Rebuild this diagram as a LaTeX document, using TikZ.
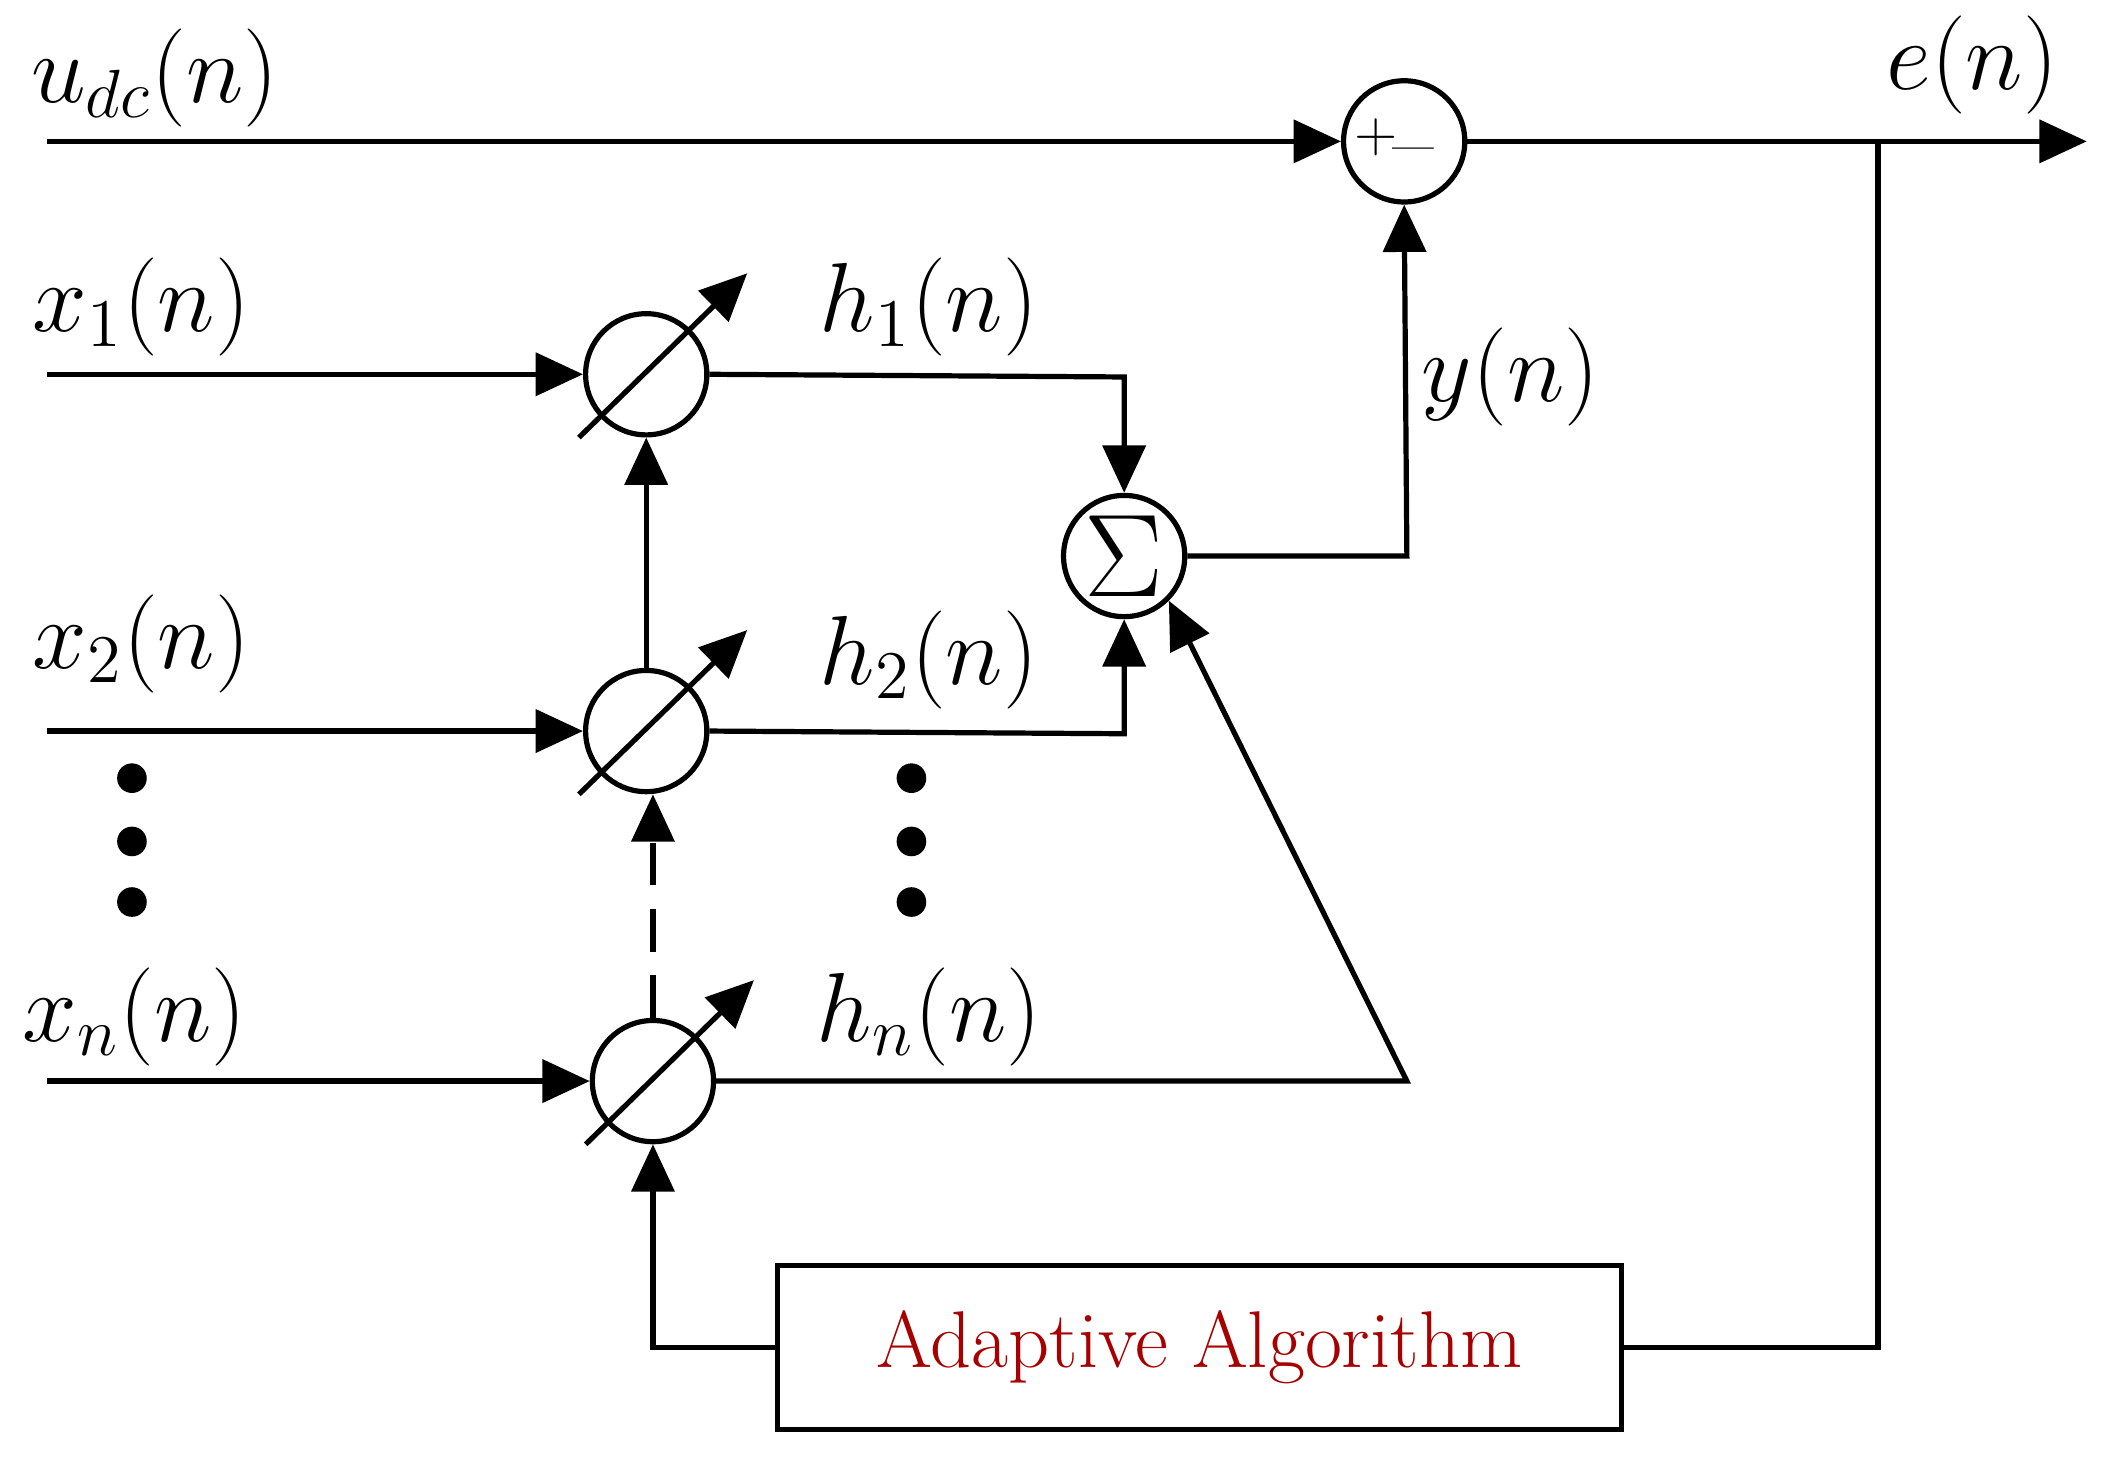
\documentclass[tikz,border=0pt]{standalone}
\usetikzlibrary{arrows.meta}
\begin{document}
\begin{tikzpicture}[x=0.01cm,y=-0.01cm,line width=1.1pt,
  arr/.style={-{Triangle[length=10pt,width=9pt]}},
  circ/.style={circle,draw,minimum size=0.9cm,inner sep=0pt,line width=1.1pt},
  lab/.style={font=\fontsize{20}{24}\selectfont},
  dot/.style={circle,fill,inner sep=0pt,minimum size=0.22cm}]
\useasboundingbox (0,0) rectangle (1568,1084);
\node[circ] (pm) at (1043,105) {};
\node[font=\large] at (1022,102) {$+$};
\node[font=\large] at (1050,108) {$\_$};
\node[circ,font=\fontsize{24}{26}\selectfont] (sg) at (835,413) {$\Sigma$};
\node[circ] (w1) at (480,278) {};
\node[circ] (w2) at (480,543) {};
\node[circ] (wn) at (485,803) {};
\coordinate (udc) at (35,105);
\coordinate (out) at (1550,105);
\coordinate (x1) at (35,278);
\coordinate (x2) at (35,543);
\coordinate (xn) at (35,803);
\draw[arr] (udc) -- (pm);
\draw[arr] (pm) -- (out);
\draw[arr] (x1) -- (w1);
\draw[arr] (x2) -- (w2);
\draw[arr] (xn) -- (wn);
\foreach \c in {w1,w2,wn}{
  \draw[arr] ([shift={(-50,47)}]\c.center) -- ([shift={(75,-75)}]\c.center);}
\draw[arr] (w1.east) -- (835,280) -- (sg.north);
\draw[arr] (w2.east) -- (835,545) -- (sg.south);
\coordinate (hn) at (1045,803);
\draw[arr] (wn.east) -- (hn) -- (sg.south east);
\draw[arr] (sg.east) -- (1045,413) -- (pm.south);
\draw[arr] (w2.north) -- (w1.south);
\draw[arr,dash pattern=on 9pt off 5pt] (wn.north) -- (485,590);
\node[draw,minimum width=6.27cm,minimum height=1.22cm,line width=1.1pt,
  text=red!65!black,font=\fontsize{17}{20}\selectfont] (ad) at (891,1001) {Adaptive Algorithm};
\draw[arr] (ad.west) -- (485,1001) -- (wn.south);
\draw (ad.east) -- (1395,1001) -- (1395,105);
\foreach \y in {578,625,670}{\node[dot] at (98,\y) {}; \node[dot] at (677,\y) {};}
\node[lab] at (115,58) {$u_{dc}(n)$};
\node[lab] at (1465,48) {$e(n)$};
\node[lab] at (105,228) {$x_1(n)$};
\node[lab] at (105,478) {$x_2(n)$};
\node[lab] at (100,755) {$x_n(n)$};
\node[lab] at (690,228) {$h_1(n)$};
\node[lab] at (690,490) {$h_2(n)$};
\node[lab] at (690,755) {$h_n(n)$};
\node[lab] at (1122,280) {$y(n)$};
\end{tikzpicture}
\end{document}
